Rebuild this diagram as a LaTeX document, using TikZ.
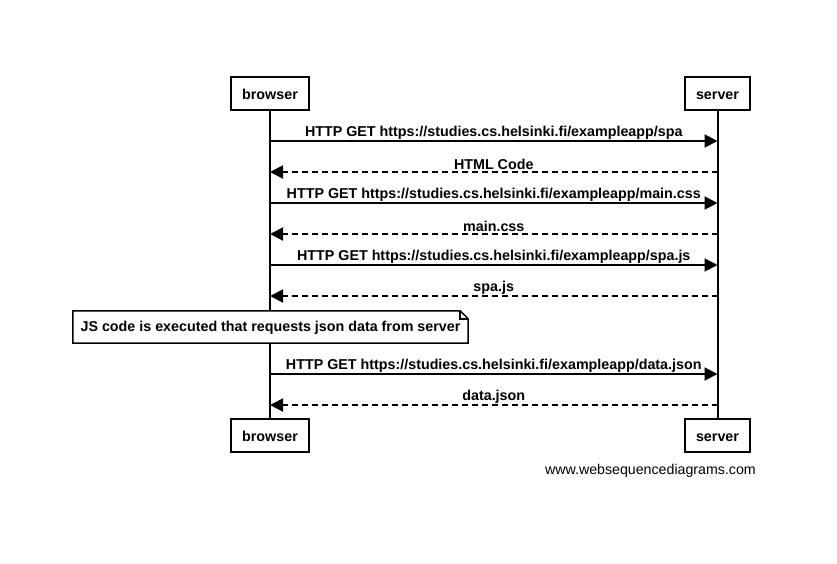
\documentclass[tikz,border=0pt]{standalone}
\usepackage{fontspec}
\setmainfont{Liberation Sans}
\usetikzlibrary{arrows.meta}
\begin{document}
\begin{tikzpicture}[x=1pt,y=-1pt,
  actor/.style={draw=black,line width=2pt,fill=white,minimum height=33pt,inner sep=0pt,text height=12pt,text depth=1pt,font=\fontsize{14.3}{16}\selectfont\bfseries},
  life/.style={line width=2pt},
  msg/.style={line width=2pt,-{Triangle[length=13pt,width=13pt]}},
  reply/.style={msg,dash pattern=on 6pt off 4pt},
  lbl/.style={font=\fontsize{14.3}{16}\selectfont\bfseries,inner sep=1pt,anchor=south}]
\useasboundingbox[fill=white] (0,0) rectangle (837,563);
\node[actor,minimum width=78pt] (b1) at (270,93.5) {browser};
\node[actor,minimum width=65pt] (s1) at (717.5,93.5) {server};
\node[actor,minimum width=78pt] (b2) at (270,435.5) {browser};
\node[actor,minimum width=65pt] (s2) at (717.5,435.5) {server};
\draw[life] (b1.south) -- (b2.north);
\draw[life] (s1.south) -- (s2.north);
% message coordinates
\foreach \i/\y in {1/141,2/172,3/203,4/234,5/265,6/296,7/374,8/405}{
  \coordinate (b\i) at (270,\y);
  \coordinate (s\i) at (717.5,\y);
}
\draw[msg] (b1) -- node[lbl] {HTTP GET https://studies.cs.helsinki.fi/exampleapp/spa} (s1);
\draw[reply] (s2) -- node[lbl] {HTML Code} (b2);
\draw[msg] (b3) -- node[lbl] {HTTP GET https://studies.cs.helsinki.fi/exampleapp/main.css} (s3);
\draw[reply] (s4) -- node[lbl] {main.css} (b4);
\draw[msg] (b5) -- node[lbl] {HTTP GET https://studies.cs.helsinki.fi/exampleapp/spa.js} (s5);
\draw[reply] (s6) -- node[lbl] {spa.js} (b6);
\draw[msg] (b7) -- node[lbl] {HTTP GET https://studies.cs.helsinki.fi/exampleapp/data.json} (s7);
\draw[reply] (s8) -- node[lbl] {data.json} (b8);
% note
\node[minimum width=395pt,minimum height=32pt,inner sep=0pt] (note) at (270.5,327) {};
\draw[line width=1.5pt,fill=white] (note.north west) -- ([xshift=-8pt]note.north east) -- ([yshift=-8pt]note.north east) -- (note.south east) -- (note.south west) -- cycle;
\draw[line width=1.5pt] ([xshift=-8pt]note.north east) -- ([xshift=-8pt,yshift=-8pt]note.north east) -- ([yshift=-8pt]note.north east);
\node[font=\fontsize{14.3}{16}\selectfont\bfseries,text height=11pt,text depth=2pt] (notetext) at (note.center) {JS code is executed that requests json data from server};
\node[anchor=east,font=\fontsize{14.2}{16}\selectfont,inner sep=0pt] (footer) at (756,471) {www.websequencediagrams.com};
\end{tikzpicture}
\end{document}
